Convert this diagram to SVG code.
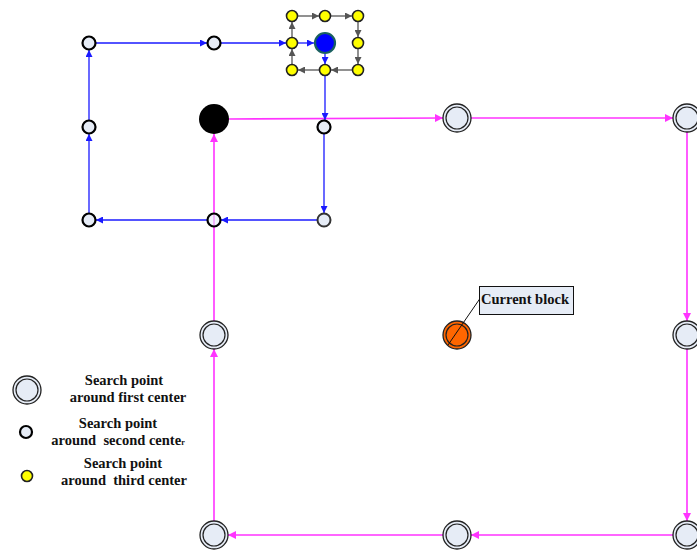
<svg xmlns="http://www.w3.org/2000/svg" width="697" height="550" viewBox="0 0 697 550">
<defs>
<style>
.bl{stroke:#1a1aff;stroke-width:1.3;fill:none}
.mg{stroke:#ff33ff;stroke-width:1.6;fill:none}
.gr{stroke:#555;stroke-width:1.3;fill:none}
.p1o{fill:#e6ecf6;stroke:#222;stroke-width:1.3}
.p1i{fill:none;stroke:#222;stroke-width:1.2}
.p2{fill:#e6ecf6;stroke:#000;stroke-width:2.2}
.p3{fill:#ffff00;stroke:#222;stroke-width:1.6}
.t{font-family:"Liberation Serif",serif;font-weight:bold;font-size:14.5px;fill:#111;text-anchor:middle}
</style>
<marker id="ab" viewBox="0 0 8 8" refX="8" refY="4" markerWidth="7" markerHeight="7" markerUnits="userSpaceOnUse" orient="auto"><path d="M0,0L8,4L0,8z" fill="#1a1aff"/></marker>
<marker id="am" viewBox="0 0 8 8" refX="8" refY="4" markerWidth="8" markerHeight="8" markerUnits="userSpaceOnUse" orient="auto"><path d="M0,0L8,4L0,8z" fill="#ff33ff"/></marker>
<marker id="ag" viewBox="0 0 8 8" refX="8" refY="4" markerWidth="7" markerHeight="7" markerUnits="userSpaceOnUse" orient="auto"><path d="M0,0L8,4L0,8z" fill="#555"/></marker>
</defs>
<rect width="697" height="550" fill="#fff"/>
<g id="connectors">
<line class="mg" x1="214" y1="521" x2="214" y2="349" marker-end="url(#am)"/>
<line class="mg" x1="214" y1="321" x2="214" y2="134" marker-end="url(#am)"/>
<line class="mg" x1="229" y1="119" x2="443" y2="118" marker-end="url(#am)"/>
<line class="mg" x1="471" y1="118" x2="673" y2="118" marker-end="url(#am)"/>
<line class="mg" x1="687" y1="132" x2="687" y2="321" marker-end="url(#am)"/>
<line class="mg" x1="687" y1="349" x2="687" y2="521" marker-end="url(#am)"/>
<line class="mg" x1="673" y1="535" x2="471" y2="535" marker-end="url(#am)"/>
<line class="mg" x1="443" y1="535" x2="228" y2="535" marker-end="url(#am)"/>
<line class="bl" x1="318" y1="220" x2="221" y2="220" marker-end="url(#ab)"/>
<line class="bl" x1="207" y1="220" x2="96" y2="220" marker-end="url(#ab)"/>
<line class="bl" x1="89" y1="213" x2="89" y2="134" marker-end="url(#ab)"/>
<line class="bl" x1="89" y1="120" x2="89" y2="50" marker-end="url(#ab)"/>
<line class="bl" x1="96" y1="43" x2="207" y2="43" marker-end="url(#ab)"/>
<line class="bl" x1="221" y1="43" x2="286" y2="43" marker-end="url(#ab)"/>
<line class="bl" x1="298" y1="43" x2="314" y2="43" marker-end="url(#ab)"/>
<line class="bl" x1="325" y1="54" x2="325" y2="64" marker-end="url(#ab)"/>
<line class="bl" x1="325" y1="76" x2="325" y2="120" marker-end="url(#ab)"/>
<line class="bl" x1="324" y1="134" x2="324" y2="213" marker-end="url(#ab)"/>
<line class="gr" x1="292" y1="64" x2="292" y2="49" marker-end="url(#ag)"/>
<line class="gr" x1="292" y1="37" x2="292" y2="22" marker-end="url(#ag)"/>
<line class="gr" x1="298" y1="16" x2="319" y2="16" marker-end="url(#ag)"/>
<line class="gr" x1="331" y1="16" x2="352" y2="16" marker-end="url(#ag)"/>
<line class="gr" x1="358" y1="22" x2="358" y2="37" marker-end="url(#ag)"/>
<line class="gr" x1="358" y1="49" x2="358" y2="64" marker-end="url(#ag)"/>
<line class="gr" x1="352" y1="70" x2="331" y2="70" marker-end="url(#ag)"/>
<line class="gr" x1="319" y1="70" x2="298" y2="70" marker-end="url(#ag)"/>
</g>
<g id="third-points">
<circle class="p3" cx="292" cy="16" r="5.5"/>
<circle class="p3" cx="325" cy="16" r="5.5"/>
<circle class="p3" cx="358" cy="16" r="5.5"/>
<circle class="p3" cx="292" cy="43" r="5.5"/>
<circle class="p3" cx="358" cy="43" r="5.5"/>
<circle class="p3" cx="292" cy="70" r="5.5"/>
<circle class="p3" cx="325" cy="70" r="5.5"/>
<circle class="p3" cx="358" cy="70" r="5.5"/>
</g>
<g id="third-center"><circle cx="325" cy="43" r="10" fill="#0000ff" stroke="#1a6060" stroke-width="2.2"/></g>
<g id="second-points">
<circle class="p2" cx="89" cy="43" r="6.5"/>
<circle class="p2" cx="214" cy="43" r="6.5"/>
<circle class="p2" cx="89" cy="127" r="6.5"/>
<circle class="p2" cx="324" cy="127" r="6.5"/>
<circle class="p2" cx="89" cy="220" r="6.5"/>
<circle class="p2" cx="214" cy="220" r="6.5" fill-opacity="0.6"/>
<circle cx="324" cy="220" r="6.5" fill="#e6ecf6" stroke="#333" stroke-width="2"/>
</g>
<g id="second-center"><circle cx="214" cy="119" r="15" fill="#000"/></g>
<g id="first-points">
<g><circle class="p1o" cx="457" cy="118" r="14"/><circle class="p1i" cx="457" cy="118" r="11"/></g>
<g><circle class="p1o" cx="687" cy="118" r="14"/><circle class="p1i" cx="687" cy="118" r="11"/></g>
<g><circle class="p1o" cx="214" cy="335" r="14"/><circle class="p1i" cx="214" cy="335" r="11"/></g>
<g><circle class="p1o" cx="687" cy="335" r="14"/><circle class="p1i" cx="687" cy="335" r="11"/></g>
<g><circle class="p1o" cx="214" cy="535" r="14"/><circle class="p1i" cx="214" cy="535" r="11"/></g>
<g><circle class="p1o" cx="457" cy="535" r="14"/><circle class="p1i" cx="457" cy="535" r="11"/></g>
<g><circle class="p1o" cx="687" cy="535" r="14"/><circle class="p1i" cx="687" cy="535" r="11"/></g>
</g>
<g id="current-block">
<circle cx="457" cy="335" r="14" fill="#ff6600" stroke="#222" stroke-width="1.3"/>
<circle cx="457" cy="335" r="11" fill="none" stroke="#222" stroke-width="1.2"/>
<line x1="481" y1="297" x2="448" y2="345" stroke="#111" stroke-width="1"/>
<rect x="479.5" y="286.5" width="94" height="28" fill="#e6ecf6" stroke="#111" stroke-width="1"/>
<text class="t" x="525" y="304">Current block</text>
</g>
<g id="legend">
<circle class="p1o" cx="27" cy="390" r="14"/><circle class="p1i" cx="27" cy="390" r="11"/>
<text class="t" x="124" y="385">Search point</text>
<text class="t" x="128" y="402">around first center</text>
<circle class="p2" cx="26" cy="432" r="6"/>
<text class="t" x="118" y="428">Search point</text>
<text class="t" x="118" y="445" xml:space="preserve">around  second cente<tspan font-size="8px">r</tspan></text>
<circle class="p3" cx="27" cy="476" r="5.5"/>
<text class="t" x="123" y="468">Search point</text>
<text class="t" x="124" y="485" xml:space="preserve">around  third center</text>
</g>
</svg>
